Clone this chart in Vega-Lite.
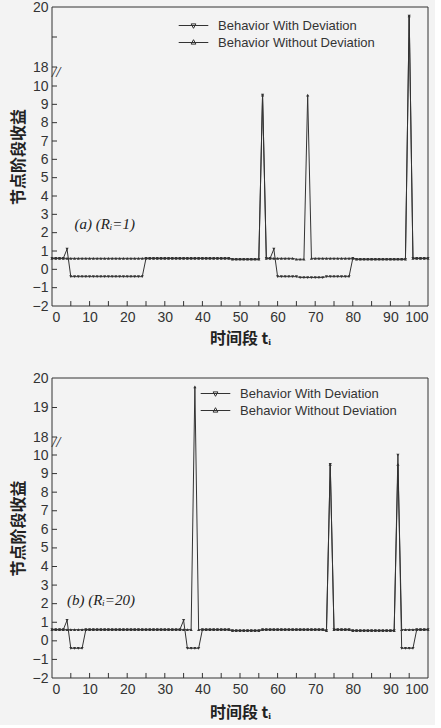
{
  "$schema": "https://vega.github.io/schema/vega-lite/v6.json",
  "background": "#f3f3f3",
  "padding": {"left": 10, "top": 0, "right": 5, "bottom": 5},
  "config": {
    "view": {"stroke": null},
    "axis": {"grid": false, "domain": false, "ticks": false, "labelOverlap": false, "labelPadding": 4, "labelFont": "Liberation Sans", "labelFontSize": 14, "labelColor": "#333", "titleColor": "#222"},
    "font": "Liberation Sans"
  },
  "datasets": {
    "d": [
      {"t":0,"aW":0.6,"aN":0.6,"bW":0.6,"bN":0.6},
      {"t":1,"aW":0.6,"aN":0.6,"bW":0.6,"bN":0.6},
      {"t":2,"aW":0.6,"aN":0.6,"bW":0.6,"bN":0.6},
      {"t":3,"aW":0.6,"aN":0.6,"bW":0.6,"bN":0.6},
      {"t":4,"aW":1.1,"aN":0.6,"bW":1.1,"bN":0.6},
      {"t":5,"aW":-0.4,"aN":0.6,"bW":-0.4,"bN":0.6},
      {"t":6,"aW":-0.4,"aN":0.6,"bW":-0.4,"bN":0.6},
      {"t":7,"aW":-0.4,"aN":0.6,"bW":-0.4,"bN":0.6},
      {"t":8,"aW":-0.4,"aN":0.6,"bW":-0.4,"bN":0.6},
      {"t":9,"aW":-0.4,"aN":0.6,"bW":0.6,"bN":0.6},
      {"t":10,"aW":-0.4,"aN":0.6,"bW":0.6,"bN":0.6},
      {"t":11,"aW":-0.4,"aN":0.6,"bW":0.6,"bN":0.6},
      {"t":12,"aW":-0.4,"aN":0.6,"bW":0.6,"bN":0.6},
      {"t":13,"aW":-0.4,"aN":0.6,"bW":0.6,"bN":0.6},
      {"t":14,"aW":-0.4,"aN":0.6,"bW":0.6,"bN":0.6},
      {"t":15,"aW":-0.4,"aN":0.6,"bW":0.6,"bN":0.6},
      {"t":16,"aW":-0.4,"aN":0.6,"bW":0.6,"bN":0.6},
      {"t":17,"aW":-0.4,"aN":0.6,"bW":0.6,"bN":0.6},
      {"t":18,"aW":-0.4,"aN":0.6,"bW":0.6,"bN":0.6},
      {"t":19,"aW":-0.4,"aN":0.6,"bW":0.6,"bN":0.6},
      {"t":20,"aW":-0.4,"aN":0.6,"bW":0.6,"bN":0.6},
      {"t":21,"aW":-0.4,"aN":0.6,"bW":0.6,"bN":0.6},
      {"t":22,"aW":-0.4,"aN":0.6,"bW":0.6,"bN":0.6},
      {"t":23,"aW":-0.4,"aN":0.6,"bW":0.6,"bN":0.6},
      {"t":24,"aW":-0.4,"aN":0.6,"bW":0.6,"bN":0.6},
      {"t":25,"aW":0.6,"aN":0.6,"bW":0.6,"bN":0.6},
      {"t":26,"aW":0.6,"aN":0.6,"bW":0.6,"bN":0.6},
      {"t":27,"aW":0.6,"aN":0.6,"bW":0.6,"bN":0.6},
      {"t":28,"aW":0.6,"aN":0.6,"bW":0.6,"bN":0.6},
      {"t":29,"aW":0.6,"aN":0.6,"bW":0.6,"bN":0.6},
      {"t":30,"aW":0.6,"aN":0.6,"bW":0.6,"bN":0.6},
      {"t":31,"aW":0.6,"aN":0.6,"bW":0.6,"bN":0.6},
      {"t":32,"aW":0.6,"aN":0.6,"bW":0.6,"bN":0.6},
      {"t":33,"aW":0.6,"aN":0.6,"bW":0.6,"bN":0.6},
      {"t":34,"aW":0.6,"aN":0.6,"bW":0.6,"bN":0.6},
      {"t":35,"aW":0.6,"aN":0.6,"bW":1.1,"bN":0.6},
      {"t":36,"aW":0.6,"aN":0.6,"bW":-0.4,"bN":0.6},
      {"t":37,"aW":0.6,"aN":0.6,"bW":-0.4,"bN":0.6},
      {"t":38,"aW":0.6,"aN":0.6,"bW":-0.4,"bN":19.7},
      {"t":39,"aW":0.6,"aN":0.6,"bW":-0.4,"bN":0.6},
      {"t":40,"aW":0.6,"aN":0.6,"bW":0.6,"bN":0.6},
      {"t":41,"aW":0.6,"aN":0.6,"bW":0.6,"bN":0.6},
      {"t":42,"aW":0.6,"aN":0.6,"bW":0.6,"bN":0.6},
      {"t":43,"aW":0.6,"aN":0.6,"bW":0.6,"bN":0.6},
      {"t":44,"aW":0.6,"aN":0.6,"bW":0.6,"bN":0.6},
      {"t":45,"aW":0.6,"aN":0.6,"bW":0.6,"bN":0.6},
      {"t":46,"aW":0.6,"aN":0.6,"bW":0.6,"bN":0.6},
      {"t":47,"aW":0.6,"aN":0.6,"bW":0.6,"bN":0.6},
      {"t":48,"aW":0.55,"aN":0.55,"bW":0.55,"bN":0.55},
      {"t":49,"aW":0.55,"aN":0.55,"bW":0.55,"bN":0.55},
      {"t":50,"aW":0.55,"aN":0.55,"bW":0.55,"bN":0.55},
      {"t":51,"aW":0.55,"aN":0.55,"bW":0.55,"bN":0.55},
      {"t":52,"aW":0.55,"aN":0.55,"bW":0.55,"bN":0.55},
      {"t":53,"aW":0.55,"aN":0.55,"bW":0.55,"bN":0.55},
      {"t":54,"aW":0.55,"aN":0.55,"bW":0.55,"bN":0.55},
      {"t":55,"aW":0.55,"aN":0.55,"bW":0.55,"bN":0.55},
      {"t":56,"aW":9.5,"aN":9.5,"bW":0.6,"bN":0.6},
      {"t":57,"aW":0.6,"aN":0.6,"bW":0.6,"bN":0.6},
      {"t":58,"aW":0.6,"aN":0.6,"bW":0.6,"bN":0.6},
      {"t":59,"aW":1.1,"aN":0.6,"bW":0.6,"bN":0.6},
      {"t":60,"aW":-0.4,"aN":0.6,"bW":0.6,"bN":0.6},
      {"t":61,"aW":-0.4,"aN":0.6,"bW":0.6,"bN":0.6},
      {"t":62,"aW":-0.4,"aN":0.6,"bW":0.6,"bN":0.6},
      {"t":63,"aW":-0.4,"aN":0.6,"bW":0.6,"bN":0.6},
      {"t":64,"aW":-0.4,"aN":0.6,"bW":0.6,"bN":0.6},
      {"t":65,"aW":-0.4,"aN":0.55,"bW":0.6,"bN":0.6},
      {"t":66,"aW":-0.45,"aN":0.55,"bW":0.6,"bN":0.6},
      {"t":67,"aW":-0.45,"aN":0.55,"bW":0.6,"bN":0.6},
      {"t":68,"aW":-0.45,"aN":9.5,"bW":0.6,"bN":0.6},
      {"t":69,"aW":-0.45,"aN":0.6,"bW":0.6,"bN":0.6},
      {"t":70,"aW":-0.45,"aN":0.6,"bW":0.6,"bN":0.6},
      {"t":71,"aW":-0.45,"aN":0.6,"bW":0.6,"bN":0.6},
      {"t":72,"aW":-0.45,"aN":0.6,"bW":0.6,"bN":0.6},
      {"t":73,"aW":-0.4,"aN":0.6,"bW":0.55,"bN":0.55},
      {"t":74,"aW":-0.4,"aN":0.6,"bW":9.5,"bN":9.5},
      {"t":75,"aW":-0.4,"aN":0.6,"bW":0.6,"bN":0.6},
      {"t":76,"aW":-0.4,"aN":0.6,"bW":0.6,"bN":0.6},
      {"t":77,"aW":-0.4,"aN":0.6,"bW":0.6,"bN":0.6},
      {"t":78,"aW":-0.4,"aN":0.6,"bW":0.6,"bN":0.6},
      {"t":79,"aW":-0.4,"aN":0.6,"bW":0.6,"bN":0.6},
      {"t":80,"aW":0.6,"aN":0.6,"bW":0.55,"bN":0.55},
      {"t":81,"aW":0.55,"aN":0.55,"bW":0.55,"bN":0.55},
      {"t":82,"aW":0.55,"aN":0.55,"bW":0.55,"bN":0.55},
      {"t":83,"aW":0.55,"aN":0.55,"bW":0.55,"bN":0.55},
      {"t":84,"aW":0.55,"aN":0.55,"bW":0.55,"bN":0.55},
      {"t":85,"aW":0.55,"aN":0.55,"bW":0.55,"bN":0.55},
      {"t":86,"aW":0.55,"aN":0.55,"bW":0.55,"bN":0.55},
      {"t":87,"aW":0.55,"aN":0.55,"bW":0.55,"bN":0.55},
      {"t":88,"aW":0.55,"aN":0.55,"bW":0.55,"bN":0.55},
      {"t":89,"aW":0.55,"aN":0.55,"bW":0.55,"bN":0.55},
      {"t":90,"aW":0.55,"aN":0.55,"bW":0.55,"bN":0.55},
      {"t":91,"aW":0.55,"aN":0.55,"bW":0.55,"bN":0.55},
      {"t":92,"aW":0.55,"aN":0.55,"bW":10.0,"bN":9.5},
      {"t":93,"aW":0.55,"aN":0.55,"bW":-0.4,"bN":0.6},
      {"t":94,"aW":0.55,"aN":0.55,"bW":-0.4,"bN":0.6},
      {"t":95,"aW":19.7,"aN":19.7,"bW":-0.4,"bN":0.6},
      {"t":96,"aW":0.6,"aN":0.6,"bW":-0.4,"bN":0.6},
      {"t":97,"aW":0.6,"aN":0.6,"bW":0.6,"bN":0.6},
      {"t":98,"aW":0.6,"aN":0.6,"bW":0.6,"bN":0.6},
      {"t":99,"aW":0.6,"aN":0.6,"bW":0.6,"bN":0.6},
      {"t":100,"aW":0.6,"aN":0.6,"bW":0.6,"bN":0.6}
    ],
    "fr": [{"i":0,"fx":0,"fy":-2},{"i":1,"fx":100,"fy":-2},{"i":2,"fx":100,"fy":20},{"i":3,"fx":0,"fy":20},{"i":4,"fx":0,"fy":-2}],
    "tk": [
      {"k":"x5","tx":5,"ty":-2},{"k":"x5","tx":5,"ty":-1.73},
      {"k":"x10","tx":10,"ty":-2},{"k":"x10","tx":10,"ty":-1.73},
      {"k":"x15","tx":15,"ty":-2},{"k":"x15","tx":15,"ty":-1.73},
      {"k":"x20","tx":20,"ty":-2},{"k":"x20","tx":20,"ty":-1.73},
      {"k":"x25","tx":25,"ty":-2},{"k":"x25","tx":25,"ty":-1.73},
      {"k":"x30","tx":30,"ty":-2},{"k":"x30","tx":30,"ty":-1.73},
      {"k":"x35","tx":35,"ty":-2},{"k":"x35","tx":35,"ty":-1.73},
      {"k":"x40","tx":40,"ty":-2},{"k":"x40","tx":40,"ty":-1.73},
      {"k":"x45","tx":45,"ty":-2},{"k":"x45","tx":45,"ty":-1.73},
      {"k":"x50","tx":50,"ty":-2},{"k":"x50","tx":50,"ty":-1.73},
      {"k":"x55","tx":55,"ty":-2},{"k":"x55","tx":55,"ty":-1.73},
      {"k":"x60","tx":60,"ty":-2},{"k":"x60","tx":60,"ty":-1.73},
      {"k":"x65","tx":65,"ty":-2},{"k":"x65","tx":65,"ty":-1.73},
      {"k":"x70","tx":70,"ty":-2},{"k":"x70","tx":70,"ty":-1.73},
      {"k":"x75","tx":75,"ty":-2},{"k":"x75","tx":75,"ty":-1.73},
      {"k":"x80","tx":80,"ty":-2},{"k":"x80","tx":80,"ty":-1.73},
      {"k":"x85","tx":85,"ty":-2},{"k":"x85","tx":85,"ty":-1.73},
      {"k":"x90","tx":90,"ty":-2},{"k":"x90","tx":90,"ty":-1.73},
      {"k":"x95","tx":95,"ty":-2},{"k":"x95","tx":95,"ty":-1.73},
      {"k":"y-1","tx":0,"ty":-1},{"k":"y-1","tx":1.33,"ty":-1},
      {"k":"y0","tx":0,"ty":0},{"k":"y0","tx":1.33,"ty":0},
      {"k":"y1","tx":0,"ty":1},{"k":"y1","tx":1.33,"ty":1},
      {"k":"y2","tx":0,"ty":2},{"k":"y2","tx":1.33,"ty":2},
      {"k":"y3","tx":0,"ty":3},{"k":"y3","tx":1.33,"ty":3},
      {"k":"y4","tx":0,"ty":4},{"k":"y4","tx":1.33,"ty":4},
      {"k":"y5","tx":0,"ty":5},{"k":"y5","tx":1.33,"ty":5},
      {"k":"y6","tx":0,"ty":6},{"k":"y6","tx":1.33,"ty":6},
      {"k":"y7","tx":0,"ty":7},{"k":"y7","tx":1.33,"ty":7},
      {"k":"y8","tx":0,"ty":8},{"k":"y8","tx":1.33,"ty":8},
      {"k":"y9","tx":0,"ty":9},{"k":"y9","tx":1.33,"ty":9},
      {"k":"y10","tx":0,"ty":10},{"k":"y10","tx":1.33,"ty":10},
      {"k":"y18","tx":0,"ty":18},{"k":"y18","tx":1.33,"ty":18},
      {"k":"y19","tx":0,"ty":19},{"k":"y19","tx":1.33,"ty":19}
    ],
    "labA": [{"tx": 6, "ty": 2.5, "lab": "(a) (Rᵢ=1)"}, {"tx": 0, "ty": 16.0, "lab": "//"}],
    "labB": [{"tx": 4, "ty": 2.2, "lab": "(b) (Rᵢ=20)"}, {"tx": 0, "ty": 16.0, "lab": "//"}]
  },
  "vconcat": [
    {
      "width": 376,
      "height": 299,
      "resolve": {"scale": {"shape": "independent"}, "axis": {"x": "independent", "y": "independent"}},
      "layer": [
        {"data": {"name": "d"}, "transform": [{"fold": ["aW", "aN"], "as": ["s", "v"]}],
          "mark": {"type": "line", "color": "#333", "strokeWidth": 1},
          "encoding": {
            "x": {"field": "t", "type": "quantitative", "scale": {"domain": [0, 100], "nice": false},
              "axis": {"values": [0,10,20,30,40,50,60,70,80,90,100], "title": "时间段 tᵢ", "titleFont": "Noto Sans CJK SC", "titleFontSize": 16, "titleFontWeight": "bold", "titlePadding": 6}},
            "y": {"field": "v", "type": "quantitative", "scale": {"domain": [-2, 10, 18, 20], "range": [299, 79, 60, 0], "nice": false, "zero": false},
              "axis": {"values": [-2,-1,0,1,2,3,4,5,6,7,8,9,10,18,20], "title": "节点阶段收益", "titleFont": "Noto Sans CJK SC", "titleFontSize": 16, "titleFontWeight": "bold", "titlePadding": 6}},
            "detail": {"field": "s"}}},
        {"data": {"name": "fr"},
          "mark": {"type": "line", "color": "#333", "strokeWidth": 1},
          "encoding": {"x": {"field": "fx", "type": "quantitative", "axis": null}, "y": {"field": "fy", "type": "quantitative", "axis": null}, "order": {"field": "i"}}},
        {"data": {"name": "tk"},
          "mark": {"type": "line", "color": "#333", "strokeWidth": 1},
          "encoding": {"x": {"field": "tx", "type": "quantitative", "axis": null}, "y": {"field": "ty", "type": "quantitative", "axis": null}, "detail": {"field": "k"}}},
        {"data": {"name": "d"}, "transform": [{"fold": ["aW", "aN"], "as": ["s", "v"]}, {"filter": "datum.s == 'aW'"}],
          "mark": {"type": "point", "filled": true, "color": "#333", "size": 10, "opacity": 1, "shape": "triangle-down"},
          "encoding": {"x": {"field": "t", "type": "quantitative", "axis": null}, "y": {"field": "v", "type": "quantitative", "axis": null}}},
        {"data": {"name": "d"}, "transform": [{"fold": ["aW", "aN"], "as": ["s", "v"]}, {"filter": "datum.s == 'aN'"}],
          "mark": {"type": "point", "filled": true, "color": "#333", "size": 10, "opacity": 1, "shape": "triangle-up"},
          "encoding": {"x": {"field": "t", "type": "quantitative", "axis": null}, "y": {"field": "v", "type": "quantitative", "axis": null}}},
        {"data": {"name": "d"}, "transform": [{"fold": ["aW", "aN"], "as": ["s", "v"]}, {"filter": "false"}],
          "mark": {"type": "point", "filled": false, "color": "#333", "strokeWidth": 1, "opacity": 1},
          "encoding": {
            "x": {"field": "t", "type": "quantitative", "axis": null},
            "y": {"field": "v", "type": "quantitative", "axis": null},
            "shape": {"field": "s", "type": "nominal", "scale": {"domain": ["aW", "aN"], "range": ["M-3.7,0H3.7M0,0.7L0.6,-0.4L-0.6,-0.4Z", "M-3.7,0H3.7M0,-0.7L0.6,0.4L-0.6,0.4Z"]},
            "legend": {"orient": "none", "legendX": 135, "legendY": 12, "title": null, "labelExpr": "indexof(datum.value,'W') >= 0 ? 'Behavior With Deviation' : 'Behavior Without Deviation'", "labelFont": "Liberation Sans", "labelFontSize": 13, "labelColor": "#333", "labelOffset": 18, "symbolSize": 64, "rowPadding": 3, "symbolFillColor": "#333", "symbolStrokeColor": "#333", "symbolStrokeWidth": 1, "symbolOpacity": 1}}}},
        {"data": {"name": "labA"},
          "mark": {"type": "text", "align": "left", "baseline": "middle", "font": "Liberation Serif", "fontStyle": "italic", "fontSize": 15, "color": "#222"},
          "encoding": {"x": {"field": "tx", "type": "quantitative", "axis": null}, "y": {"field": "ty", "type": "quantitative", "axis": null}, "text": {"field": "lab"}}}
      ]
    },
    {
      "width": 376,
      "height": 300,
      "resolve": {"scale": {"shape": "independent"}, "axis": {"x": "independent", "y": "independent"}},
      "layer": [
        {"data": {"name": "d"}, "transform": [{"fold": ["bW", "bN"], "as": ["s", "v"]}],
          "mark": {"type": "line", "color": "#333", "strokeWidth": 1},
          "encoding": {
            "x": {"field": "t", "type": "quantitative", "scale": {"domain": [0, 100], "nice": false},
              "axis": {"values": [0,10,20,30,40,50,60,70,80,90,100], "title": "时间段 tᵢ", "titleFont": "Noto Sans CJK SC", "titleFontSize": 16, "titleFontWeight": "bold", "titlePadding": 8}},
            "y": {"field": "v", "type": "quantitative", "scale": {"domain": [-2, 10, 18, 20], "range": [300, 77, 59, 0], "nice": false, "zero": false},
              "axis": {"values": [-2,-1,0,1,2,3,4,5,6,7,8,9,10,18,19,20], "title": "节点阶段收益", "titleFont": "Noto Sans CJK SC", "titleFontSize": 16, "titleFontWeight": "bold", "titlePadding": 6}},
            "detail": {"field": "s"}}},
        {"data": {"name": "fr"},
          "mark": {"type": "line", "color": "#333", "strokeWidth": 1},
          "encoding": {"x": {"field": "fx", "type": "quantitative", "axis": null}, "y": {"field": "fy", "type": "quantitative", "axis": null}, "order": {"field": "i"}}},
        {"data": {"name": "tk"},
          "mark": {"type": "line", "color": "#333", "strokeWidth": 1},
          "encoding": {"x": {"field": "tx", "type": "quantitative", "axis": null}, "y": {"field": "ty", "type": "quantitative", "axis": null}, "detail": {"field": "k"}}},
        {"data": {"name": "d"}, "transform": [{"fold": ["bW", "bN"], "as": ["s", "v"]}, {"filter": "datum.s == 'bW'"}],
          "mark": {"type": "point", "filled": true, "color": "#333", "size": 10, "opacity": 1, "shape": "triangle-down"},
          "encoding": {"x": {"field": "t", "type": "quantitative", "axis": null}, "y": {"field": "v", "type": "quantitative", "axis": null}}},
        {"data": {"name": "d"}, "transform": [{"fold": ["bW", "bN"], "as": ["s", "v"]}, {"filter": "datum.s == 'bN'"}],
          "mark": {"type": "point", "filled": true, "color": "#333", "size": 10, "opacity": 1, "shape": "triangle-up"},
          "encoding": {"x": {"field": "t", "type": "quantitative", "axis": null}, "y": {"field": "v", "type": "quantitative", "axis": null}}},
        {"data": {"name": "d"}, "transform": [{"fold": ["bW", "bN"], "as": ["s", "v"]}, {"filter": "false"}],
          "mark": {"type": "point", "filled": false, "color": "#333", "strokeWidth": 1, "opacity": 1},
          "encoding": {
            "x": {"field": "t", "type": "quantitative", "axis": null},
            "y": {"field": "v", "type": "quantitative", "axis": null},
            "shape": {"field": "s", "type": "nominal", "scale": {"domain": ["bW", "bN"], "range": ["M-3.7,0H3.7M0,0.7L0.6,-0.4L-0.6,-0.4Z", "M-3.7,0H3.7M0,-0.7L0.6,0.4L-0.6,0.4Z"]},
            "legend": {"orient": "none", "legendX": 157, "legendY": 9, "title": null, "labelExpr": "indexof(datum.value,'W') >= 0 ? 'Behavior With Deviation' : 'Behavior Without Deviation'", "labelFont": "Liberation Sans", "labelFontSize": 13, "labelColor": "#333", "labelOffset": 18, "symbolSize": 64, "rowPadding": 3, "symbolFillColor": "#333", "symbolStrokeColor": "#333", "symbolStrokeWidth": 1, "symbolOpacity": 1}}}},
        {"data": {"name": "labB"},
          "mark": {"type": "text", "align": "left", "baseline": "middle", "font": "Liberation Serif", "fontStyle": "italic", "fontSize": 15, "color": "#222"},
          "encoding": {"x": {"field": "tx", "type": "quantitative", "axis": null}, "y": {"field": "ty", "type": "quantitative", "axis": null}, "text": {"field": "lab"}}}
      ]
    }
  ],
  "spacing": 72,
  "bounds": "flush",
  "resolve": {"legend": {"shape": "independent"}, "scale": {"shape": "independent"}}
}
